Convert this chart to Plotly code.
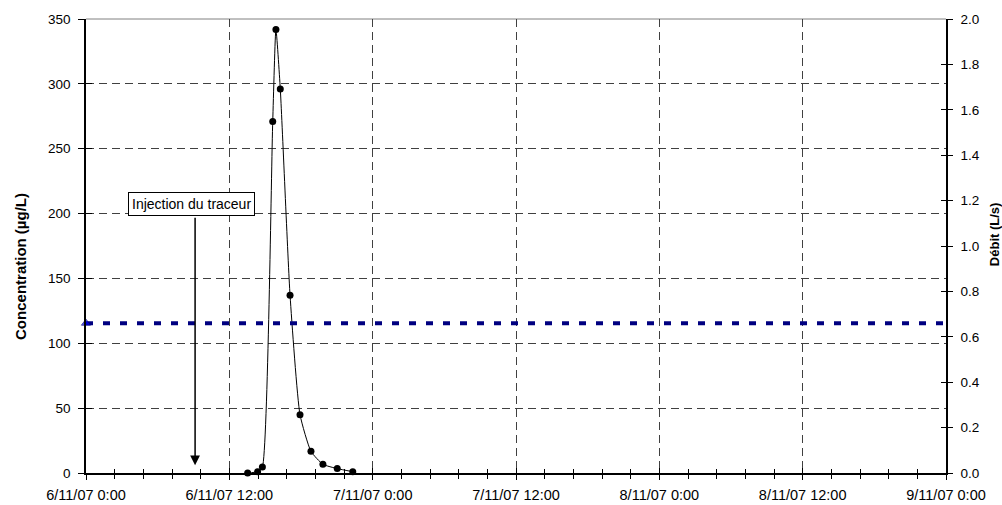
import plotly.graph_objects as go

# ---- data ----
conc_times = [
    "2007-11-06 13:32", "2007-11-06 14:22", "2007-11-06 14:46", "2007-11-06 15:38",
    "2007-11-06 15:54", "2007-11-06 16:16", "2007-11-06 17:05", "2007-11-06 17:55",
    "2007-11-06 18:50", "2007-11-06 19:50", "2007-11-06 21:02", "2007-11-06 22:20",
]
conc_values = [0, 1, 4.6, 271, 342, 296, 137, 45, 16.7, 6.7, 3.4, 1]

flow_times = ["2007-11-06 00:00", "2007-11-09 00:00"]
flow_values = [0.66, 0.66]

x_range = ["2007-11-06 00:00", "2007-11-09 00:00"]
conc_range = [0, 350]
flow_range = [0, 2]

injection_time = "2007-11-06 09:08"
injection_label_time = "2007-11-06 08:48"
injection_label = "Injection du traceur"

left_title = "Concentration (µg/L)"
right_title = "Débit (L/s)"

FONT = "Liberation Sans, Arial, sans-serif"
HOUR = 3600 * 1000

fig = go.Figure()
fig.add_trace(go.Scatter(
    x=conc_times, y=conc_values, mode="lines+markers",
    line=dict(color="black", width=1, shape="spline", smoothing=0.5),
    marker=dict(color="black", size=7),
    xaxis="x", yaxis="y", showlegend=False, cliponaxis=False,
))
fig.add_trace(go.Scatter(
    x=flow_times, y=flow_values, mode="lines+markers",
    line=dict(color="#000080", width=4, dash="7px,10px"),
    marker=dict(symbol="triangle-up", color="#0000ff", size=[8, 0]),
    xaxis="x", yaxis="y2", showlegend=False, cliponaxis=False,
))
# invisible helper traces so the overlay (inside-tick) axes are drawn
fig.add_trace(go.Scatter(x=[x_range[0]], y=[0], xaxis="x2", yaxis="y3", mode="markers",
                         marker=dict(opacity=0), showlegend=False, hoverinfo="skip"))
fig.add_trace(go.Scatter(x=[x_range[0]], y=[0], xaxis="x2", yaxis="y4", mode="markers",
                         marker=dict(opacity=0), showlegend=False, hoverinfo="skip"))

grid = dict(showgrid=True, gridcolor="#404040", gridwidth=1, griddash="8px,5px")

fig.update_layout(
    width=1002, height=505, autosize=False,
    margin=dict(l=86, r=56, t=19, b=32, pad=0, autoexpand=False),
    paper_bgcolor="white", plot_bgcolor="white",
    font=dict(family=FONT, color="black"),
    showlegend=False,
    xaxis=dict(
        type="date", range=x_range, tick0=x_range[0], dtick=12 * HOUR,
        tickformat="%-d/%-m/%y %-H:%M", tickfont=dict(size=14.5),
        ticks="outside", ticklen=5, tickwidth=1, tickcolor="black",
        minor=dict(tick0=x_range[0], dtick=2.4 * HOUR, ticks="outside", ticklen=4,
                   tickcolor="black", showgrid=False),
        showline=True, linecolor="black", linewidth=2, zeroline=False,
        anchor="y", ticklabelstandoff=3, automargin=False, **grid,
    ),
    xaxis2=dict(
        type="date", range=x_range, tick0=x_range[0], dtick=12 * HOUR,
        overlaying="x", anchor="y", showticklabels=False,
        ticks="inside", ticklen=5, tickcolor="black",
        minor=dict(tick0=x_range[0], dtick=2.4 * HOUR, ticks="inside", ticklen=4,
                   tickcolor="black", showgrid=False),
        showgrid=False, showline=False, zeroline=False, automargin=False,
    ),
    yaxis=dict(
        range=conc_range, dtick=50, tickfont=dict(size=13.5),
        ticks="outside", ticklen=6, tickcolor="black",
        showline=True, linecolor="black", linewidth=1.5, zeroline=False,
        anchor="x", ticklabelstandoff=5, automargin=False, **grid,
    ),
    yaxis2=dict(
        range=flow_range, dtick=0.2, tickformat=".1f", tickfont=dict(size=13.5),
        overlaying="y", side="right", anchor="x",
        ticks="outside", ticklen=5, tickcolor="black",
        showline=True, linecolor="black", linewidth=1.5, zeroline=False,
        showgrid=False, ticklabelstandoff=5, automargin=False,
    ),
    yaxis3=dict(
        range=conc_range, dtick=50, overlaying="y", side="left", anchor="x2",
        ticks="inside", ticklen=6, tickcolor="black", showticklabels=False,
        showgrid=False, showline=False, zeroline=False, automargin=False,
    ),
    yaxis4=dict(
        range=flow_range, dtick=0.2, overlaying="y", side="right", anchor="x2",
        ticks="inside", ticklen=5, tickcolor="black", showticklabels=False,
        showgrid=False, showline=False, zeroline=False, automargin=False,
    ),
    shapes=[dict(type="line", xref="paper", yref="paper", x0=0, x1=1, y0=1, y1=1,
                 line=dict(color="#808080", width=1), layer="below")],
    annotations=[
        dict(x=injection_label_time, y=207, xref="x", yref="y", text=injection_label,
             showarrow=False, bordercolor="black", borderwidth=1, borderpad=3,
             bgcolor="white", font=dict(size=14, family=FONT)),
        dict(x=injection_time, y=6, xref="x", yref="y", ax=injection_time, ay=198,
             axref="x", ayref="y", text="", showarrow=True, arrowhead=2,
             arrowsize=1.3, arrowwidth=1.5, arrowcolor="black", standoff=0),
        dict(x=-0.0756, y=0.456, xref="paper", yref="paper", text="<b>" + left_title + "</b>",
             textangle=-90, showarrow=False, xanchor="center", yanchor="middle",
             font=dict(size=15, family=FONT)),
        dict(x=1.0558, y=0.526, xref="paper", yref="paper", text="<b>" + right_title + "</b>",
             textangle=-90, showarrow=False, xanchor="center", yanchor="middle",
             font=dict(size=13, family=FONT)),
    ],
)

fig.write_html("out.html", config={"displayModeBar": False},
               post_script="document.body.style.margin='0px';")
